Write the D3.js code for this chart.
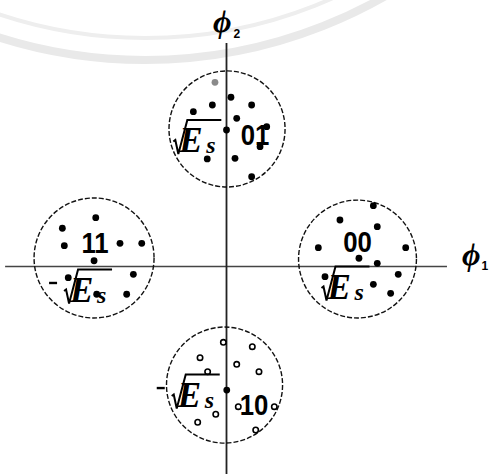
<!DOCTYPE html>
<html>
<head>
<meta charset="utf-8">
<script src="https://cdn.jsdelivr.net/npm/d3@7"></script>
<style>
  html, body { margin: 0; padding: 0; background: #fff; }
  svg { display: block; }
</style>
</head>
<body>
<svg id="chart" width="494" height="474"></svg>
<script>
// QPSK signal space: noisy received samples around each symbol, in units of sqrt(Es)

const bits = ["00", "01", "11", "10"];
// centre of each decision disc (phi1, phi2)
const centerPhi1 = [1.0, 0.004, -1.011, -0.015];
const centerPhi2 = [0.057, 1.05, 0.065, -0.905];
const discRadius = [0.45, 0.443, 0.458, 0.443];

// received samples for symbol 00
const samples00 = [
  [1.121, 0.464], [0.866, 0.355], [1.151, 0.304], [0.701, 0.144], [1.368, 0.144],
  [1.011, 0.063], [1.151, 0.024], [0.752, -0.078], [1.311, -0.060], [1.121, -0.136],
  [1.253, -0.205]
];
// received samples for symbol 01
const samples01 = [
  [0.034, 1.292], [0.192, 1.233], [-0.108, 1.233], [-0.253, 1.182], [0.078, 1.131],
  [0.0, 1.042], [0.307, 1.067], [0.256, 0.915], [-0.147, 0.821], [0.065, 0.826],
  [0.192, 0.685]
];
const faded01 = [[-0.088, 1.406]];
// received samples for symbol 11
const samples11 = [
  [-0.998, 0.373], [-1.253, 0.292], [-1.238, 0.159], [-0.813, 0.177], [-0.647, 0.177],
  [-1.011, 0.044], [-1.208, -0.085], [-0.711, -0.060], [-0.991, -0.212], [-0.762, -0.212]
];
// received samples for symbol 10 (hollow) and its transmitted point
const samples10 = [
  [-0.024, -0.579], [0.197, -0.612], [-0.202, -0.696], [0.078, -0.747], [-0.144, -0.803],
  [0.248, -0.803], [0.090, -1.070], [0.365, -1.070], [-0.082, -1.128], [-0.220, -1.189],
  [0.223, -1.248]
];
const symbol10 = [[0.002, -0.943]];

// extent of the two basis axes
const phi1Extent = [-1.69, 1.683];
const phi2Extent = [-1.584, 1.706];

const svg = d3.select("#chart");

const x = d3.scaleLinear().domain([-1, 1]).range([226.5 - 131, 226.5 + 131]);
const y = d3.scaleLinear().domain([-1, 1]).range([266.5 + 131, 266.5 - 131]);
const unit = x(1) - x(0);

// faint seal in the paper background
const seal = svg.append("g").attr("fill", "none");
seal.append("circle").attr("cx", 145).attr("cy", -424).attr("r", 484)
  .attr("stroke", "#e9e9e9").attr("stroke-width", 8);
seal.append("circle").attr("cx", 145).attr("cy", -424).attr("r", 462)
  .attr("stroke", "#eeeeee").attr("stroke-width", 4);

// axes
svg.append("line")
  .attr("x1", x(phi1Extent[0])).attr("x2", x(phi1Extent[1]))
  .attr("y1", y(0)).attr("y2", y(0))
  .attr("stroke", "#444").attr("stroke-width", 1.6);
svg.append("line")
  .attr("x1", x(0)).attr("x2", x(0))
  .attr("y1", y(phi2Extent[0])).attr("y2", y(phi2Extent[1]))
  .attr("stroke", "#222").attr("stroke-width", 1.8);

// decision discs
svg.append("g").selectAll("circle")
  .data(bits)
  .join("circle")
  .attr("cx", (d, i) => x(centerPhi1[i]))
  .attr("cy", (d, i) => y(centerPhi2[i]))
  .attr("r", (d, i) => discRadius[i] * unit)
  .attr("fill", "none")
  .attr("stroke", "#111")
  .attr("stroke-width", 1.4)
  .attr("stroke-dasharray", "5,2");

// samples
const dots = svg.append("g");
function filled(data, color) {
  dots.append("g").selectAll("circle").data(data).join("circle")
    .attr("cx", d => x(d[0])).attr("cy", d => y(d[1]))
    .attr("r", 3.4).attr("fill", color);
}
filled(samples00, "#000");
filled(samples01, "#000");
filled(faded01, "#8a8a8a");
filled(samples11, "#000");
filled(symbol10, "#000");
dots.append("g").selectAll("circle").data(samples10).join("circle")
  .attr("cx", d => x(d[0])).attr("cy", d => y(d[1]))
  .attr("r", 2.7).attr("fill", "#fff").attr("stroke", "#000").attr("stroke-width", 1.6);

// bit labels, placed relative to each disc centre (slightly condensed digits)
const bitOffset = { "00": [0, -7], "01": [28, 16], "11": [1, -5], "10": [29.5, 30] };
svg.append("g").selectAll("text")
  .data(bits)
  .join("text")
  .attr("transform", (d, i) =>
    `translate(${x(centerPhi1[i]) + bitOffset[d][0]},${y(centerPhi2[i]) + bitOffset[d][1]}) scale(0.92,1.08)`)
  .attr("text-anchor", "middle")
  .attr("font-family", "'Liberation Sans', Arial, sans-serif")
  .attr("font-weight", "bold")
  .attr("font-size", 28)
  .attr("fill", "#000")
  .text(d => d);

// +/- sqrt(Es) annotations
const rootOffset = {
  "01": { dx: -53.7, dy: 23.5, neg: false },
  "11": { dx: -30, dy: 44, neg: true },
  "00": { dx: -36, dy: 40, neg: false },
  "10": { dx: -52.8, dy: 22, neg: true }
};
bits.forEach((b, i) => {
  const o = rootOffset[b];
  const x0 = x(centerPhi1[i]) + o.dx;
  const b0 = y(centerPhi2[i]) + o.dy;
  const g = svg.append("g").attr("transform", `translate(${x0},${b0})`);
  g.append("path")
    .attr("d", "M0,-11 L2,-12.5 L5,1.5 L14,-32.5 L48,-32.5")
    .attr("fill", "none").attr("stroke", "#000").attr("stroke-width", 2)
    .attr("stroke-linejoin", "miter");
  g.append("text")
    .attr("x", 6).attr("y", 0)
    .attr("font-family", "'Liberation Serif', 'Times New Roman', serif")
    .attr("font-style", "italic").attr("font-weight", "bold")
    .attr("font-size", 35)
    .text("E");
  g.append("text")
    .attr("x", 33).attr("y", 1)
    .attr("font-family", "'Liberation Serif', 'Times New Roman', serif")
    .attr("font-style", "italic").attr("font-weight", "bold")
    .attr("font-size", 24)
    .text("s");
  if (o.neg) {
    g.append("path")
      .attr("d", "M-15,-19 L-7,-19")
      .attr("stroke", "#000").attr("stroke-width", 2.4);
  }
});

// basis labels
const axisLabels = svg.append("g")
  .attr("font-family", "'Liberation Serif', 'Times New Roman', serif")
  .attr("font-weight", "bold");
const l1 = axisLabels.append("text").attr("x", 462).attr("y", 265);
l1.append("tspan").attr("font-style", "italic").attr("font-size", 32).text("ϕ");
l1.append("tspan").attr("font-family", "'Liberation Sans', Arial, sans-serif")
  .attr("font-size", 12).attr("dy", 5).attr("dx", 1).text("1");
const l2 = axisLabels.append("text").attr("x", 213).attr("y", 32);
l2.append("tspan").attr("font-style", "italic").attr("font-size", 32).text("ϕ");
l2.append("tspan").attr("font-family", "'Liberation Sans', Arial, sans-serif")
  .attr("font-size", 12).attr("dy", 6).attr("dx", 2).text("2");
</script>
</body>
</html>
